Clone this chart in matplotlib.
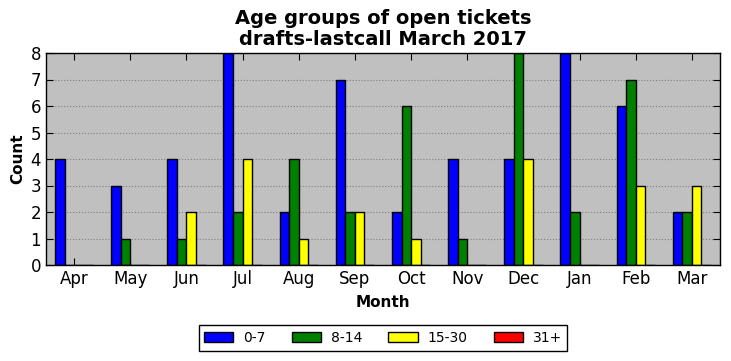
import matplotlib
matplotlib.use("Agg")
import matplotlib.pyplot as plt
import numpy as np

months = ["Apr", "May", "Jun", "Jul", "Aug", "Sep", "Oct", "Nov", "Dec", "Jan", "Feb", "Mar"]
age_0_7 = [4, 3, 4, 8, 2, 7, 2, 4, 4, 8, 6, 2]
age_8_14 = [0, 1, 1, 2, 4, 2, 6, 1, 8, 2, 7, 2]
age_15_30 = [0, 0, 2, 4, 1, 2, 1, 0, 4, 0, 3, 3]
age_31p = [0, 0, 0, 0, 0, 0, 0, 0, 0, 0, 0, 0]
series = [("0-7", age_0_7, "blue"), ("8-14", age_8_14, "green"),
          ("15-30", age_15_30, "yellow"), ("31+", age_31p, "red")]

fig = plt.figure(figsize=(7.31, 3.61), dpi=100)
ax = fig.add_axes([46/731, 1-265/361, (720-46)/731, (265-53)/361])
ax.set_facecolor("#c0c0c0")
x = np.arange(len(months))
w = 0.17
for i, (lab, vals, col) in enumerate(series):
    ax.bar(x + (i - 1.5) * w, vals, w, color=col, edgecolor="black", linewidth=1, label=lab, zorder=2)
ax.set_xlim(-0.5, len(months) - 0.5)
ax.set_ylim(0, 8)
ax.set_xticks(x)
ax.set_xticklabels(months, fontsize=12)
ax.set_yticks(range(0, 9))
ax.tick_params(axis="y", labelsize=12)
ax.tick_params(direction="in", top=True, right=True, length=5)
ax.yaxis.grid(True, linestyle=":", color="#808080", linewidth=0.8, zorder=0)
ax.set_axisbelow(True)
for s in ax.spines.values():
    s.set_linewidth(1)
ax.set_xlabel("Month", fontsize=11, fontweight="bold", labelpad=5)
ax.set_ylabel("Count", fontsize=11, fontweight="bold")
ax.set_title("Age groups of open tickets\ndrafts-lastcall March 2017", fontsize=14, fontweight="bold", linespacing=1.1)
leg = fig.legend(loc="center", bbox_to_anchor=(383/731, 1-338/361), ncol=4, fontsize=10,
                 fancybox=False, edgecolor="black", framealpha=1, handlelength=2.1,
                 handletextpad=0.7, columnspacing=1.9, borderpad=0.4)
leg.get_frame().set_linewidth(1)
fig.savefig("out.png", dpi=100)
